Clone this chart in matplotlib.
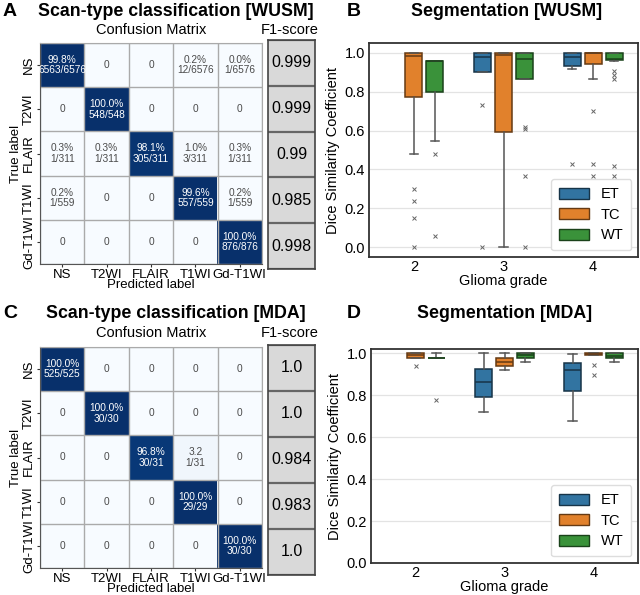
import numpy as np
import matplotlib
matplotlib.use("Agg")
import matplotlib.pyplot as plt
from matplotlib.colors import ListedColormap, to_rgb
from matplotlib.patches import Patch

plt.rcParams['font.family'] = ['Liberation Sans', 'DejaVu Sans']

# ---------------- data ----------------
scan_types = ["NS", "T2WI", "FLAIR", "T1WI", "Gd-T1WI"]

wusm_counts = [
    [6563, 0, 0, 12, 1],
    [0, 548, 0, 0, 0],
    [1, 1, 305, 3, 1],
    [1, 0, 0, 557, 1],
    [0, 0, 0, 0, 876],
]
wusm_totals = [6576, 548, 311, 559, 876]
wusm_f1 = ["0.999", "0.999", "0.99", "0.985", "0.998"]

mda_counts = [
    [525, 0, 0, 0, 0],
    [0, 30, 0, 0, 0],
    [0, 0, 30, 1, 0],
    [0, 0, 0, 29, 0],
    [0, 0, 0, 0, 30],
]
mda_totals = [525, 30, 31, 29, 30]
mda_f1 = ["1.0", "1.0", "0.984", "0.983", "1.0"]
mda_no_pct = [(2, 3)]  # cell printed without the % sign

grades = ["2", "3", "4"]
regions = ["ET", "TC", "WT"]
region_colors = ["#3274a1", "#e1812c", "#3a923a"]

# box stats per region, per grade: (q1, med, q3, whislo, whishi)
wusm_stats = {
    "ET": [None, (0.90, 0.980, 1.0, 0.90, 1.0), (0.930, 0.978, 1.0, 0.915, 1.0)],
    "TC": [(0.77, 0.985, 1.0, 0.48, 1.0), (0.593, 0.99, 1.0, 0.0, 1.0), (0.942, 0.998, 1.0, 0.867, 1.0)],
    "WT": [(0.80, 0.955, 0.957, 0.545, 0.957), (0.867, 0.97, 1.0, 0.867, 1.0), (0.964, 0.967, 1.0, 0.96, 1.0)],
}
wusm_fliers = {
    "ET": [[], [0.73, 0.0], [0.43, 0.0]],
    "TC": [[0.30, 0.24, 0.15, 0.0], [], [0.70, 0.43, 0.365, 0.225, 0.0]],
    "WT": [[0.478, 0.056], [0.62, 0.61, 0.365, 0.0], [0.908, 0.887, 0.865, 0.42, 0.365, 0.0]],
}
mda_stats = {
    "ET": [None, (0.792, 0.862, 0.927, 0.721, 1.0), (0.822, 0.922, 0.951, 0.678, 0.995)],
    "TC": [(0.979, 0.99, 1.0, 0.979, 1.0), (0.94, 0.96, 0.979, 0.919, 1.0), (0.99, 0.995, 1.0, 0.99, 1.0)],
    "WT": [(0.977, 0.977, 0.978, 0.977, 1.0), (0.975, 0.99, 1.0, 0.956, 1.0), (0.976, 0.985, 1.0, 0.959, 1.0)],
}
mda_fliers = {
    "ET": [[], [], []],
    "TC": [[0.941], [], [0.944, 0.894]],
    "WT": [[0.779], [], []],
}

# ---------------- figure ----------------
W, H = 640, 595
fig = plt.figure(figsize=(W / 100, H / 100), dpi=100)


def ax_px(x0, y0, x1, y1):
    return fig.add_axes([x0 / W, 1 - y1 / H, (x1 - x0) / W, (y1 - y0) / H])


def draw_cm(ax, axf, counts, totals, f1, no_pct=()):
    counts = np.array(counts, dtype=float)
    totals = np.array(totals, dtype=float)
    pct = counts / totals[:, None] * 100
    ax.imshow(pct, cmap="Blues", vmin=0, vmax=100, aspect="auto")
    n = len(scan_types)
    for i in range(n):
        for j in range(n):
            if counts[i, j] == 0:
                txt = "0"
            elif (i, j) in no_pct:
                txt = f"{pct[i, j]:.1f}\n{int(counts[i, j])}/{int(totals[i])}"
            else:
                txt = f"{pct[i, j]:.1f}%\n{int(counts[i, j])}/{int(totals[i])}"
            col = "white" if pct[i, j] > 50 else "#4a4a4a"
            ax.text(j, i, txt, ha="center", va="center", fontsize=7.3,
                    color=col, linespacing=1.05)
    ax.set_xticks(range(n))
    ax.set_yticks(range(n))
    ax.set_xticklabels(scan_types, fontsize=9.5)
    ax.set_yticklabels(scan_types, fontsize=9.5, rotation=90, va="center")
    ax.set_xticks(np.arange(-0.5, n, 1), minor=True)
    ax.set_yticks(np.arange(-0.5, n, 1), minor=True)
    ax.grid(which="minor", color="#aaaaaa", linewidth=1.0)
    ax.tick_params(which="minor", length=0)
    ax.tick_params(which="major", length=2.5, pad=1.0, color="#333333")
    for s in ax.spines.values():
        s.set_color("#aaaaaa")
    ax.spines["left"].set_color("#555555")
    ax.spines["bottom"].set_color("#555555")
    ax.set_xlabel("Predicted label", fontsize=9.5, labelpad=-1)
    ax.set_ylabel("True label", fontsize=9.5, labelpad=1)

    # F1 column
    axf.imshow(np.zeros((n, 1)), cmap=ListedColormap(["#d9d9d9"]), aspect="auto")
    for i, v in enumerate(f1):
        axf.text(0, i, v, ha="center", va="center", fontsize=11.5, color="black")
    axf.set_xticks([])
    axf.set_yticks([])
    axf.set_yticks(np.arange(-0.5, n, 1), minor=True)
    axf.grid(which="minor", axis="y", color="#666666", linewidth=1.6)
    axf.tick_params(which="minor", length=0)
    for s in axf.spines.values():
        s.set_color("#444444")
        s.set_linewidth(1.2)


def darker(c, f=0.5):
    r, g, b = to_rgb(c)
    return (r * f, g * f, b * f)


def draw_box(ax, stats, fliers, ylim):
    offsets = [-0.235, 0.0, 0.235]
    for k, reg in enumerate(regions):
        color = region_colors[k]
        ec = darker(color, 0.45)
        for g in range(len(grades)):
            st = stats[reg][g]
            if st is None:
                continue
            q1, med, q3, lo, hi = st
            d = dict(q1=q1, med=med, q3=q3, whislo=lo, whishi=hi,
                     fliers=fliers[reg][g], label=grades[g])
            ax.bxp([d], positions=[g + offsets[k]], widths=0.19,
                   patch_artist=True, showfliers=True,
                   boxprops=dict(facecolor=color, edgecolor=ec, linewidth=1.1),
                   medianprops=dict(color=ec, linewidth=1.1),
                   whiskerprops=dict(color="#555555", linewidth=1.1),
                   capprops=dict(color="#555555", linewidth=1.1),
                   flierprops=dict(marker="x", markersize=3.3, markeredgecolor="#666666",
                                   markeredgewidth=0.7, linestyle="none"),
                   manage_ticks=False)
    ax.set_xlim(-0.5, 2.5)
    ax.set_ylim(*ylim)
    ax.set_xticks(range(len(grades)))
    ax.set_xticklabels(grades)
    ax.set_yticks([0.0, 0.2, 0.4, 0.6, 0.8, 1.0])
    ax.set_yticklabels(["0.0", "0.2", "0.4", "0.6", "0.8", "1.0"])
    ax.tick_params(labelsize=10.5, length=0, pad=3)
    ax.tick_params(axis="x", pad=2)
    ax.yaxis.grid(True, color="#e3e3e3", linewidth=0.9)
    ax.set_axisbelow(True)
    for s in ax.spines.values():
        s.set_color("#333333")
        s.set_linewidth(1.3)
    ax.set_xlabel("Glioma grade", fontsize=10.5, labelpad=0)
    ax.set_ylabel("Dice Similarity Coefficient", fontsize=10.5, labelpad=3)
    handles = [Patch(facecolor=region_colors[k], edgecolor=darker(region_colors[k], 0.45),
                     label=regions[k]) for k in range(3)]
    ax.legend(handles=handles, loc="lower right", fontsize=10.5,
              handlelength=2.05, handleheight=0.8, labelspacing=0.45,
              borderpad=0.55, handletextpad=0.8, framealpha=1.0,
              edgecolor="#dddddd", fancybox=True, borderaxespad=0.45)


# Panel A
axA = ax_px(40, 43, 262, 264)
axAf = ax_px(268, 40, 315, 269)
draw_cm(axA, axAf, wusm_counts, wusm_totals, wusm_f1)

# Panel C
axC = ax_px(40, 347, 262, 568)
axCf = ax_px(268, 345, 315, 575)
draw_cm(axC, axCf, mda_counts, mda_totals, mda_f1, mda_no_pct)

# Panel B
axB = ax_px(369, 43, 638, 257)
draw_box(axB, wusm_stats, wusm_fliers, (-0.05, 1.05))

# Panel D
axD = ax_px(371, 349, 638, 563)
draw_box(axD, mda_stats, mda_fliers, (0.0, 1.02))

# Texts
def ftext(x, y, s, **kw):
    fig.text(x / W, 1 - y / H, s, **kw)

ftext(10, 11, "A", fontsize=14, fontweight="bold", va="center", ha="center")
ftext(176, 11, "Scan-type classification [WUSM]", fontsize=12.8, fontweight="bold", va="center", ha="center")
ftext(151, 30, "Confusion Matrix", fontsize=10.5, va="center", ha="center")
ftext(290, 30, "F1-score", fontsize=10.5, va="center", ha="center")

ftext(354, 11, "B", fontsize=14, fontweight="bold", va="center", ha="center")
ftext(507, 11, "Segmentation [WUSM]", fontsize=12.8, fontweight="bold", va="center", ha="center")

ftext(10, 313, "C", fontsize=14, fontweight="bold", va="center", ha="center")
ftext(176, 313, "Scan-type classification [MDA]", fontsize=12.8, fontweight="bold", va="center", ha="center")
ftext(151, 333, "Confusion Matrix", fontsize=10.5, va="center", ha="center")
ftext(290, 333, "F1-score", fontsize=10.5, va="center", ha="center")

ftext(354, 313, "D", fontsize=14, fontweight="bold", va="center", ha="center")
ftext(505, 313, "Segmentation [MDA]", fontsize=12.8, fontweight="bold", va="center", ha="center")

fig.savefig("out.png", dpi=100)
